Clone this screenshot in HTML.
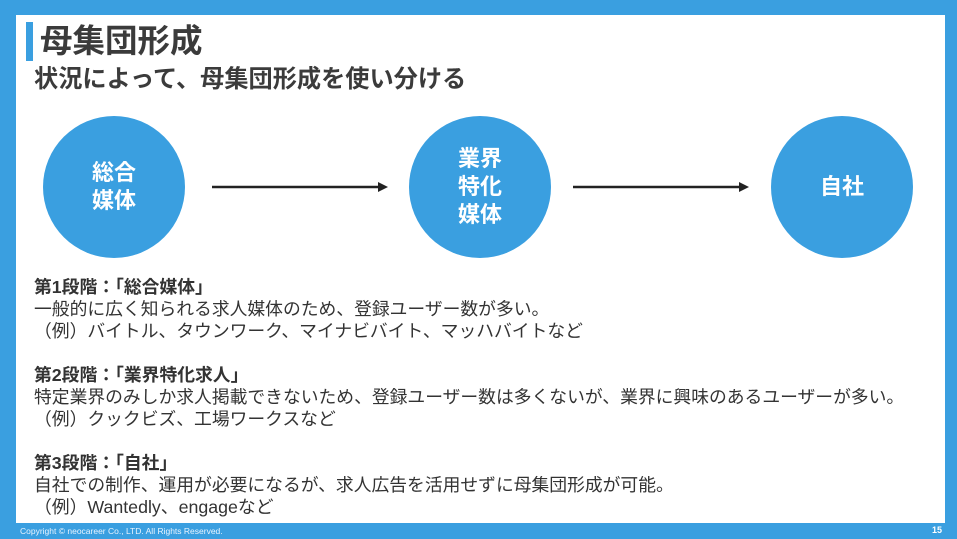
<!DOCTYPE html>
<html><head><meta charset="utf-8"><style>
body{margin:0;width:957px;height:539px;background:#3a9fe0;position:relative;overflow:hidden;font-family:"Liberation Sans","Noto Sans CJK JP",sans-serif;}
.slide{position:absolute;left:16px;top:15px;width:929px;height:508px;background:#fff;}
.bar{position:absolute;left:26px;top:22px;width:7px;height:39px;background:#3a9fe0;}
.t{position:absolute;white-space:nowrap;color:#3b3b3b;}
.c{position:absolute;width:142px;height:142px;border-radius:50%;background:#3a9fe0;color:#fff;font-weight:bold;font-size:22px;line-height:28px;display:flex;align-items:center;justify-content:center;text-align:center;}
.p{position:absolute;left:34px;font-size:17.8px;color:#333;white-space:nowrap;line-height:22px;}
</style></head><body>
<div class="slide"></div>
<div class="bar"></div>
<div class="t" style="left:40px;top:21px;font-size:32.5px;font-weight:bold;line-height:40px;">母集団形成</div>
<div class="t" style="left:34px;top:65px;font-size:24.2px;font-weight:bold;line-height:30px;">状況によって、母集団形成を使い分ける</div>
<div class="c" style="left:43px;top:116px;">総合<br>媒体</div>
<div class="c" style="left:409px;top:116px;">業界<br>特化<br>媒体</div>
<div class="c" style="left:771px;top:116px;">自社</div>
<svg style="position:absolute;left:0;top:0" width="957" height="539">
<line x1="212" y1="187" x2="380" y2="187" stroke="#222" stroke-width="2.5"/>
<polygon points="388,187 378,182 378,192" fill="#222"/>
<line x1="573" y1="187" x2="741" y2="187" stroke="#222" stroke-width="2.5"/>
<polygon points="749,187 739,182 739,192" fill="#222"/>
</svg>
<div class="p" style="top:276px;"><b>第1段階：「総合媒体」</b><br>一般的に広く知られる求人媒体のため、登録ユーザー数が多い。<br>（例）バイトル、タウンワーク、マイナビバイト、マッハバイトなど</div>
<div class="p" style="top:364px;"><b>第2段階：「業界特化求人」</b><br>特定業界のみしか求人掲載できないため、登録ユーザー数は多くないが、業界に興味のあるユーザーが多い。<br>（例）クックビズ、工場ワークスなど</div>
<div class="p" style="top:452px;"><b>第3段階：「自社」</b><br>自社での制作、運用が必要になるが、求人広告を活用せずに母集団形成が可能。<br>（例）Wantedly、engageなど</div>
<div class="t" style="left:20px;top:526px;font-size:8.5px;color:#e8f4ff;">Copyright © neocareer Co., LTD. All Rights Reserved.</div>
<div class="t" style="left:932px;top:525px;font-size:9px;color:#fff;font-weight:bold;">15</div>
</body></html>
